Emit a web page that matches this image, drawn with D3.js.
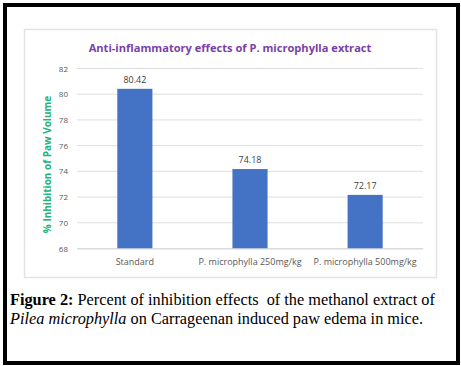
<!DOCTYPE html>
<html>
<head>
<meta charset="utf-8">
<script src="https://cdn.jsdelivr.net/npm/d3@7"></script>
<style>
  html, body { margin: 0; padding: 0; background: #fff; }
  svg { display: block; }
</style>
</head>
<body>
<div id="showBox"></div>
<script>
// chart data
const categories = ["Standard", "P. microphylla 250mg/kg", "P. microphylla 500mg/kg"];
const values = [80.42, 74.18, 72.17];
const yTicks = [68, 70, 72, 74, 76, 78, 80, 82];

const W = 461, H = 366;

const svg = d3.select("#showBox").append("svg")
    .attr("width", W)
    .attr("height", H)
    .style("font-family", "'Open Sans', sans-serif");

// outer black frame
svg.append("rect")
    .attr("x", 5).attr("y", 5)
    .attr("width", 453).attr("height", 358)
    .attr("fill", "#fff")
    .attr("stroke", "#000")
    .attr("stroke-width", 4);

// chart area box
svg.append("rect")
    .attr("x", 24.5).attr("y", 29.5)
    .attr("width", 412).attr("height", 248)
    .attr("fill", "#fff")
    .attr("stroke", "#e3e3e3")
    .attr("stroke-width", 1.5);

const x = d3.scaleBand()
    .domain(categories)
    .range([77, 423])
    .paddingInner(0.695)
    .paddingOuter(0.35);

const y = d3.scaleLinear()
    .domain([68, 82])
    .range([248.5, 68.5]);

// gridlines
svg.append("g")
    .selectAll("line")
    .data(yTicks)
    .join("line")
    .attr("x1", 77).attr("x2", 423)
    .attr("y1", d => y(d)).attr("y2", d => y(d))
    .attr("stroke", "#dedede")
    .attr("stroke-width", 1);

// y axis labels
const yAxis = svg.append("g")
    .attr("transform", "translate(68,0)")
    .call(d3.axisLeft(y).tickValues(yTicks).tickSize(0).tickPadding(0));
yAxis.select(".domain").remove();
yAxis.selectAll("text")
    .attr("fill", "#595959")
    .style("font-size", "8px")
    .style("font-family", "'Open Sans', sans-serif");

// bars
svg.append("g")
    .selectAll("rect")
    .data(values)
    .join("rect")
    .attr("x", (d, i) => x(categories[i]))
    .attr("y", d => y(d))
    .attr("width", x.bandwidth())
    .attr("height", d => y(68) - y(d))
    .attr("fill", "#4472C4");

// value labels
svg.append("g")
    .selectAll("text")
    .data(values)
    .join("text")
    .attr("x", (d, i) => x(categories[i]) + x.bandwidth() / 2)
    .attr("y", d => y(d) - 6)
    .attr("text-anchor", "middle")
    .attr("fill", "#404040")
    .style("font-size", "9px")
    .text(d => d3.format(".2f")(d));

// x axis labels
const xAxis = svg.append("g")
    .attr("transform", `translate(0,${y(68)})`)
    .call(d3.axisBottom(x).tickSize(0).tickPadding(10));
xAxis.select(".domain").attr("stroke", "#d9d9d9");
xAxis.selectAll("text")
    .attr("fill", "#595959")
    .style("font-size", "9px")
    .style("font-family", "'Open Sans', sans-serif");

// title
svg.append("text")
    .attr("x", 230)
    .attr("y", 52)
    .attr("text-anchor", "middle")
    .attr("fill", "#7a3fa8")
    .style("font-size", "11.1px")
    .style("font-weight", "bold")
    .text("Anti-inflammatory effects of P. microphylla extract");

// y axis title
svg.append("text")
    .attr("transform", "translate(51,164.5) rotate(-90)")
    .attr("text-anchor", "middle")
    .attr("fill", "#22b27a")
    .style("font-size", "10px")
    .style("font-weight", "bold")
    .text("% Inhibition of Paw Volume");

// caption
const cap = svg.append("g")
    .style("font-family", "'Liberation Serif', 'Times New Roman', serif")
    .style("font-size", "16.3px")
    .attr("fill", "#000");

const l1 = cap.append("text").attr("x", 10).attr("y", 305);
l1.append("tspan").style("font-weight", "bold").text("Figure 2:");
l1.append("tspan").text(" Percent of inhibition effects \u00a0of the methanol extract of");

const l2 = cap.append("text").attr("x", 10).attr("y", 324);
l2.append("tspan").style("font-style", "italic").text("Pilea microphylla");
l2.append("tspan").text(" on Carrageenan induced paw edema in mice.");
</script>
</body>
</html>
